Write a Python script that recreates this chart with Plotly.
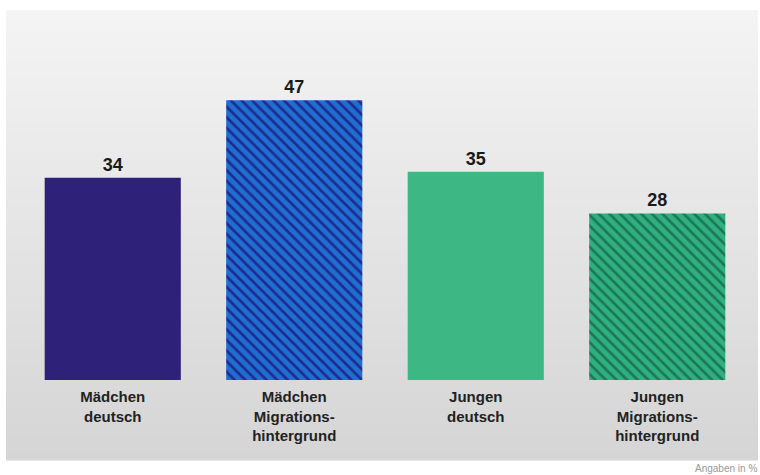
import plotly.graph_objects as go

categories = ["Mädchen<br>deutsch", "Mädchen<br>Migrations-<br>hintergrund",
              "Jungen<br>deutsch", "Jungen<br>Migrations-<br>hintergrund"]
values = [34, 47, 35, 28]
bar_colors = ["#2e2179", "#1e6ed4", "#3db783", "#2eb07f"]
pattern_shapes = ["", "\\", "", "\\"]
pattern_fg = ["#2e2179", "#1f2b88", "#3db783", "#1d7658"]

W, H = 760, 475
L, R, T, B = 22, 12, 40, 95
pw, ph = W - L - R, H - T - B

def px2x(px):
    return (px - L) / pw

def py2y(py):
    return (H - B - py) / ph

fig = go.Figure()
for i, v in enumerate(values):
    fig.add_trace(go.Bar(
        x=[i], y=[v], width=0.75,
        marker=dict(color=bar_colors[i], line=dict(width=0),
                    pattern=dict(shape=pattern_shapes[i], fgcolor=pattern_fg[i],
                                 bgcolor=bar_colors[i],
                                 size=7.5, solidity=0.35, fillmode="replace")),
        text=[str(v)], textposition="outside",
        textfont=dict(family="Liberation Sans", size=18, color="#1a1a1a", weight="bold"),
        cliponaxis=False, hoverinfo="skip",
    ))

# gradient background panel
shapes = []
top, bot = 10, 460
n = 60
c0, c1 = 0xf4, 0xd5
for i in range(n):
    y0 = top + (bot - top) * i / n
    y1 = top + (bot - top) * (i + 1) / n + 0.5
    c = round(c0 + (c1 - c0) * (i + 0.5) / n)
    col = f"rgb({c},{c},{c})"
    shapes.append(dict(type="rect", xref="paper", yref="paper",
                       x0=px2x(6), x1=px2x(758), y0=py2y(y1), y1=py2y(y0),
                       fillcolor=col, line=dict(width=0), layer="below"))

fig.update_layout(
    width=W, height=H, margin=dict(l=L, r=R, t=T, b=B),
    paper_bgcolor="white", plot_bgcolor="rgba(0,0,0,0)",
    shapes=shapes, showlegend=False, barmode="overlay",
    xaxis=dict(range=[-0.5, 3.5], tickvals=list(range(len(values))),
               ticktext=categories, showgrid=False, zeroline=False,
               showline=False, ticks="", ticklabelstandoff=6,
               tickfont=dict(family="Liberation Sans", size=15, color="#222222",
                             weight="bold")),
    yaxis=dict(range=[0, ph / 5.95], visible=False, showgrid=False),
    annotations=[dict(text="Angaben in %", xref="paper", yref="paper",
                      x=px2x(759), y=py2y(468), xanchor="right", yanchor="middle",
                      showarrow=False,
                      font=dict(family="Liberation Sans", size=10, color="#999999"))],
)

fig.write_html("out.html", config={"displayModeBar": False},
               post_script="document.body.style.margin='0';")
